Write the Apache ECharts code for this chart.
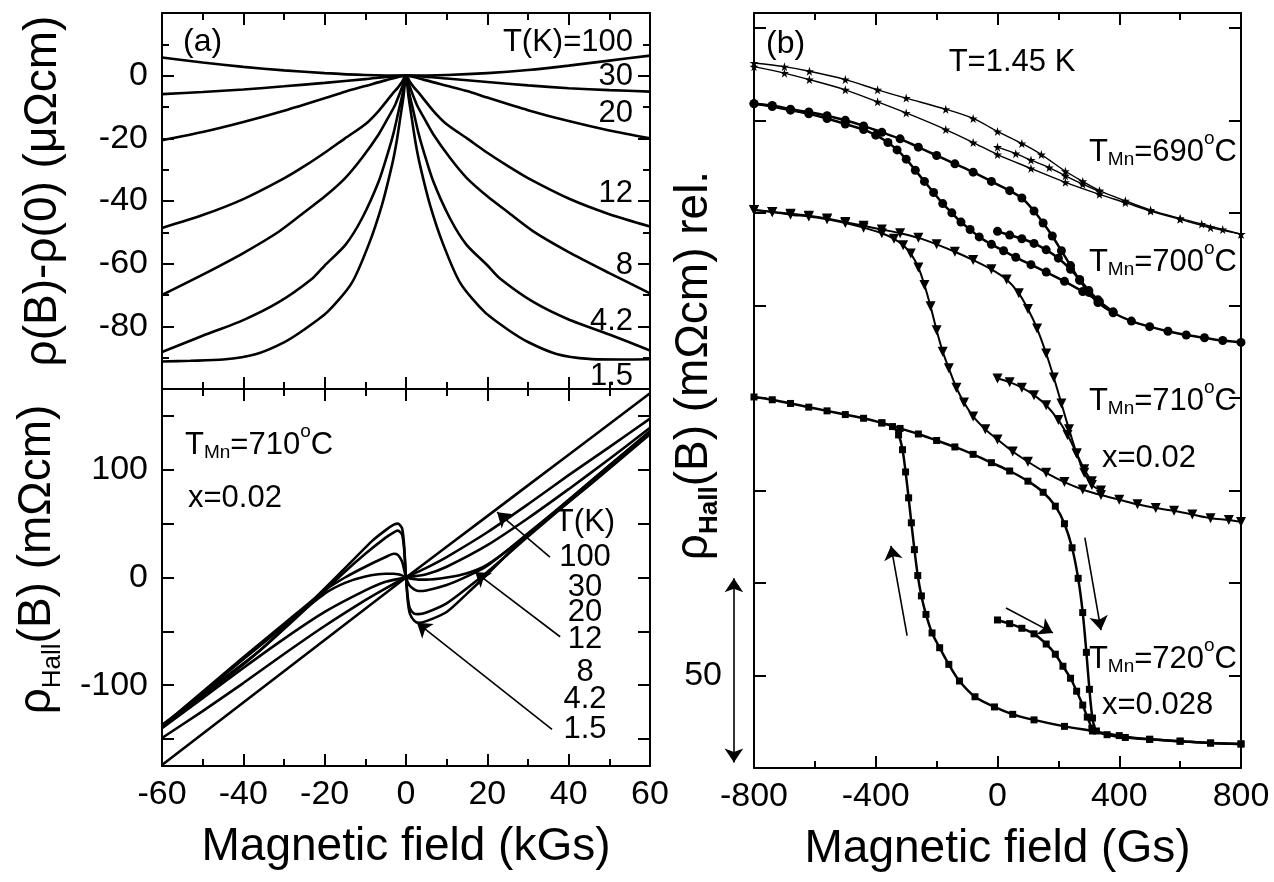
<!DOCTYPE html>
<html>
<head>
<meta charset="utf-8">
<script src="https://cdn.jsdelivr.net/npm/echarts@6/dist/echarts.min.js"></script>
<style>html,body{margin:0;background:#fff}#chart{width:1274px;height:882px}</style>
</head>
<body>
<div id="chart"></div>
<script>
// (a) top: rho(B)-rho(0) in uOhm cm vs B in kGs
var mr100 = [[-60,5.8],[-50,4.2],[-40,2.8],[-30,1.7],[-20,0.8],[-10,0.2],[0,0],[10,0.2],[20,0.8],[30,1.8],[40,3.2],[50,4.8],[60,6.4]];
var mr30 = [[-60,-5.9],[-50,-5.2],[-40,-4.4],[-30,-3.4],[-20,-2.3],[-10,-1.1],[0,0],[10,-0.9],[20,-2],[30,-3.1],[40,-4],[50,-4.6],[60,-5.1]];
var mr20 = [[-60,-20.6],[-50,-18],[-40,-14.8],[-30,-11.2],[-20,-7.2],[-15,-5.1],[-10,-3.3],[-5,-1.5],[0,0],[5,-1.5],[10,-3.2],[15,-4.9],[20,-7],[30,-11],[40,-14.5],[50,-17.5],[60,-20]];
var mr12 = [[-60,-48.6],[-50,-44.5],[-40,-39.4],[-30,-32.8],[-25,-28.9],[-20,-24.6],[-15,-20],[-10,-15.5],[-6.7,-11.2],[-3.4,-5.9],[-2,-3.8],[-1,-2],[0,0],[1,-2],[2,-3.8],[3.4,-5.9],[6.7,-11.2],[10,-15.5],[15,-20],[20,-24.6],[25,-28.8],[30,-32.7],[40,-39.2],[50,-44.2],[60,-48.1]];
var mr8 = [[-60,-70],[-50,-63.5],[-40,-56.6],[-31.3,-49.8],[-25,-43.6],[-20,-38.6],[-14.9,-32.6],[-10.8,-26.2],[-6.7,-18.7],[-4,-12.5],[-2.6,-9.1],[-1,-3.8],[0,0],[1,-3.8],[2.6,-9.1],[4,-12.5],[6.7,-18.7],[10.8,-26.2],[14.9,-32.6],[20,-38.5],[25,-43.5],[31.3,-49.7],[40,-56.3],[50,-63],[60,-69.5]];
var mr4 = [[-60,-88.2],[-50,-83],[-40,-78],[-31.3,-72.3],[-23.1,-64.8],[-20,-60.6],[-14.9,-54],[-10.8,-45.5],[-6.7,-33.7],[-4.3,-24],[-3,-18],[-1.8,-11.2],[-0.8,-5.5],[0,0],[0.8,-5.5],[1.8,-11.2],[3,-18],[4.3,-24],[6.7,-33.7],[10.8,-45.5],[14.9,-54],[20,-60.5],[23.1,-64.7],[31.3,-72.2],[40,-77.8],[50,-82.6],[60,-87.7]];
var mr15 = [[-60,-91.2],[-53,-91],[-45,-90.6],[-37,-88.9],[-30,-85.1],[-25,-81],[-19.3,-75.4],[-13.4,-66.3],[-9.2,-54],[-5.9,-41.2],[-3.4,-28.3],[-2.3,-21],[-1.4,-13.4],[-0.6,-6.5],[0,0],[0.6,-6.5],[1.4,-13.4],[2.3,-21],[3.4,-28.3],[5.9,-41.2],[9.2,-54],[13.4,-66.3],[19.3,-75.4],[25,-81],[30,-85],[37,-88.8],[45,-90.4],[53,-90.6],[60,-90.5]];
var mrLabels = ['T(K)=100', '30', '20', '12', '8', '4.2', '1.5'];

// (a) bottom: Hall resistivity in mOhm cm vs B in kGs
var h100 = [[-60,-174],[-40,-116],[-20,-58],[0,0],[20,57],[40,114],[60,171]];
var h30 = [[-60,-149],[-50,-124],[-40,-98],[-30,-71],[-20,-45],[-10,-21],[-5,-10],[0,0],[5,9],[10,19],[20,42],[30,68],[40,95],[50,121],[60,147.5]];
var h20 = [[-60,-140],[-50,-112],[-40,-84],[-30,-57],[-20,-32],[-10,-12],[-5,-4],[0,0],[5,3],[10,10],[20,30],[30,55],[40,82],[50,110],[60,139]];
var h12 = [[-60,-139],[-50,-107],[-40,-76],[-30,-45],[-20,-15],[-15,-5],[-10,1],[-5,3.5],[-3,3.5],[-2,3],[-1,2],[0,0],[1,-1],[2,-1.5],[3,-2],[5,-2],[10,0],[15,4],[20,12],[30,40],[40,72],[50,104],[60,136]];
var h8 = [[-60,-138],[-50,-106],[-40,-74],[-30,-43],[-20,-12],[-15,0],[-10,10],[-5,19],[-3,22],[-2,21],[-1,15],[-0.5,8],[0,0],[0.5,-5],[1,-8],[2,-11],[3,-12.5],[5,-12],[10,-7],[15,1],[20,11],[30,41],[40,72],[50,104],[60,135]];
var h4 = [[-60,-137],[-48.5,-104],[-36,-68],[-24,-27],[-15.7,3],[-10,22],[-5,37],[-3,42],[-2,43.5],[-1,40],[-0.5,28],[0,0],[0.5,-20],[1,-29],[2,-33.5],[3,-34],[5,-32.5],[10,-24],[15,-10],[20,5],[30,38],[40,70],[50,102],[60,134]];
var h15 = [[-60,-137],[-48.5,-106],[-36,-68],[-24,-25],[-15.7,6],[-8.3,34],[-5,44],[-3,49],[-2,50],[-1,46],[-0.5,32],[0,0],[0.5,-24],[1,-34],[2,-40],[3,-42],[5,-40.5],[10,-32],[15,-15],[20,3],[30,40],[40,70],[46.5,90],[60,133]];
var hallLabels = ['T(K)', '100', '30', '20', '12', '8', '4.2', '1.5'];
var hallArrows = [[[35.4,19],[22.4,60.6]], [[37.9,-55],[17,5]], [[35.9,-141],[2.7,-42]]];

// (b) Hall loops at 1.45 K, B in Gs; up = sweep that switches at +Hc, dn = switches at -Hc, v = virgin
var s690up = [[-800,116.2],[-700,115.8],[-618,115.3],[-500,114.4],[-394,113.3],[-300,112.4],[-170,111.2],[-80,110.2],[0,108.8],[80,107.5],[144,106.3],[223,104.5],[280,103.4],[335,102.4],[420,101.3],[503,100.3],[600,99.4],[671,98.8],[740,98.2],[800,97.7]];
var s690dn = [[-800,115.8],[-700,115.1],[-618,114.4],[-500,113.3],[-394,112],[-300,110.8],[-170,109],[-80,107.6],[0,106.3],[110,104.8],[223,103.3],[335,102],[420,101.1],[503,100.2],[600,99.3],[700,98.4],[800,97.7]];
var s690v = [[0,107.1],[60,106.4],[110,105.7],[170,104.9],[223,104],[280,103.1],[335,102.3]];
var s700up = [[-800,111.8],[-740,111.6],[-680,111.2],[-620,110.9],[-560,110.5],[-500,110],[-440,109.4],[-380,108.7],[-320,108],[-260,107.1],[-200,106.2],[-140,105.3],[-80,104.4],[-20,103.4],[40,102.4],[80,101.6],[120,100.2],[150,98.9],[180,97.5],[210,95.9],[240,94.3],[270,92.7],[300,91.4],[330,90.3],[380,89.2],[440,88.3],[500,87.7],[560,87.2],[620,86.8],[680,86.5],[740,86.2],[800,86]];
var s700dn = [[-800,111.8],[-740,111.5],[-680,111.1],[-620,110.7],[-560,110.2],[-500,109.6],[-440,109],[-400,108.4],[-360,107.6],[-330,106.8],[-300,105.8],[-270,104.6],[-240,103.4],[-210,102.2],[-180,101],[-150,100],[-120,99],[-90,98.2],[-60,97.4],[-20,96.6],[20,95.9],[60,95.2],[110,94.4],[160,93.6],[220,92.6],[280,91.5],[335,90.4],[380,89.3]];
var s700v = [[0,98],[40,97.6],[80,97.2],[120,96.7],[160,96],[200,95.1],[240,93.9],[270,92.8],[300,91.6],[330,90.6]];
var s710up = [[-800,100.3],[-740,100.1],[-680,99.9],[-620,99.7],[-560,99.4],[-500,99],[-440,98.6],[-380,98.2],[-320,97.8],[-260,97.3],[-200,96.6],[-140,95.8],[-80,94.9],[-20,93.9],[30,92.8],[70,91.3],[100,89.6],[130,87.5],[160,84.8],[185,82.2],[210,79.4],[235,76.6],[260,74],[285,71.9],[310,70.6],[340,70]];
var s710dn = [[-800,100.3],[-740,100.1],[-680,99.8],[-620,99.6],[-560,99.3],[-500,98.9],[-440,98.4],[-380,97.8],[-340,97.2],[-310,96.5],[-285,95.6],[-260,94.1],[-240,92.2],[-220,89.9],[-200,87.3],[-180,85],[-160,83.2],[-135,81.1],[-110,79.5],[-80,78],[-40,76.6],[0,75.5],[50,74.2],[100,73.1],[160,71.9],[220,70.9],[280,70.1],[340,69.5],[400,69],[460,68.5],[520,68.1],[580,67.8],[640,67.4],[700,67],[760,66.8],[800,66.6]];
var s710v = [[0,82.1],[40,81.7],[80,81.1],[120,80.3],[160,79.2],[200,77.6],[230,76],[260,74],[285,72.3],[310,71]];
var s720up = [[-800,80.1],[-740,79.8],[-680,79.4],[-620,79],[-560,78.6],[-500,78.2],[-440,77.8],[-380,77.3],[-320,76.7],[-260,76.1],[-200,75.4],[-140,74.7],[-80,73.9],[-20,73],[40,72.1],[100,71],[150,69.8],[190,68.3],[220,66.4],[245,63.8],[265,60.5],[280,56.8],[292,52.5],[302,48.5],[312,45.4],[325,44],[360,43.6],[420,43.3],[500,43.1],[600,42.9],[700,42.7],[800,42.6]];
var s720dn = [[800,42.6],[700,42.7],[600,42.9],[500,43.1],[400,43.5],[312,44],[220,44.5],[120,45.2],[50,45.8],[-10,46.6],[-74,47.7],[-125,49.4],[-160,51.2],[-190,53],[-215,54.6],[-235,56.6],[-250,58.6],[-262,60.8],[-273,63.6],[-283,66.5],[-292,69.2],[-302,72],[-312,74.4],[-325,76],[-345,76.9],[-380,77.3]];
var s720v = [[0,56],[40,55.6],[80,55.1],[120,54.5],[160,53.4],[190,52.3],[215,51],[240,49.7],[260,48.3],[280,46.8],[295,45.5],[310,44.3]];
var loopArrows = [[[-297,54.3],[-350,64]], [[287,64.9],[340,54.9]], [[28,57.3],[182,54.6]]];
var scaleBar = [[-866,40.6],[-866,60.5]];

var FONT = 'Liberation Sans, Arial, Helvetica, sans-serif';
var STAR = 'path://M50,0 L61,35 98,35 68,57 79,91 50,70 21,91 32,57 2,35 39,35 Z';

var chart = echarts.init(document.getElementById('chart'));

function ax(o) {
  var base = {
    axisLine: {show: true, onZero: false, lineStyle: {color: '#000', width: 2}},
    axisTick: {show: true, inside: true, length: 12, lineStyle: {color: '#000', width: 2}},
    minorTick: {show: false},
    axisLabel: {show: false},
    splitLine: {show: false}
  };
  for (var k in o) base[k] = o[k];
  return base;
}
var minor2 = {show: true, splitNumber: 2, length: 7, lineStyle: {color: '#000', width: 2}};
var richName = {
  r: {fontSize: 46, fontFamily: FONT, lineHeight: 52, verticalAlign: 'top'},
  s: {fontSize: 26, fontFamily: FONT, lineHeight: 26, verticalAlign: 'bottom'},
  b: {fontSize: 26, fontFamily: FONT, fontWeight: 'bold', lineHeight: 26, verticalAlign: 'bottom'}
};
// padding on the start side nudges the rotated y titles upward, as in the original
function nameStyle(shift) {
  return {fontSize: 46, fontFamily: FONT, color: '#000', rich: richName, padding: [0, 0, 0, shift || 0]};
}

var xA = {type: 'value', min: -60, max: 60, interval: 20, minorTick: minor2};
var xB = {type: 'value', min: -800, max: 800, interval: 400, minorTick: minor2};
var yTop = {type: 'value', min: -100, max: 20, interval: 20, minorTick: minor2};
var yHall = {type: 'value', min: -175, max: 175, axisTick: {show: true, inside: true, length: 12, customValues: [-150,-100,-50,0,50,100,150], lineStyle: {color: '#000', width: 2}}};
var yLoop = {type: 'value', min: 40, max: 121.6, interval: 10};

function merge(a, b) { var o = {}; for (var k in a) o[k] = a[k]; for (var k2 in b) o[k2] = b[k2]; return ax(o); }

function line(data, xi, yi) {
  return {type: 'line', data: data, xAxisIndex: xi, yAxisIndex: yi, smooth: 0.25,
    symbol: 'none', lineStyle: {color: '#000', width: 2.6}, silent: true};
}
function loop(data, sym, size, width, rot) {
  return {type: 'line', data: data, xAxisIndex: 4, yAxisIndex: 4, smooth: 0.3,
    symbol: sym, symbolSize: size, symbolRotate: rot || 0, showSymbol: true,
    itemStyle: {color: '#000'}, lineStyle: {color: '#000', width: width}, silent: true};
}
function arrows(data, xi, yi, both) {
  return {type: 'lines', coordinateSystem: 'cartesian2d', xAxisIndex: xi, yAxisIndex: yi, clip: false,
    symbol: both ? ['arrow', 'arrow'] : ['none', 'arrow'], symbolSize: 14, silent: true,
    lineStyle: {color: '#000', width: 1.6, opacity: 1, curveness: 0},
    data: data.map(function (c) { return {coords: c}; }), z: 10};
}

var richT = {
  a: {fontSize: 31, fontFamily: FONT, lineHeight: 40, padding: [8, 0, 0, 0], verticalAlign: 'top'},
  s: {fontSize: 19, fontFamily: FONT, lineHeight: 19, verticalAlign: 'bottom'},
  o: {fontSize: 19, fontFamily: FONT, lineHeight: 19, verticalAlign: 'top'}
};
function txt(x, y, t, size, align) {
  return {type: 'text', x: x, y: y, z: 20, style: {text: t, fill: '#000', fontSize: size, fontFamily: FONT,
    textAlign: align || 'left', textVerticalAlign: 'middle'}};
}
function tmn(x, y, t, align) {
  return {type: 'text', x: x, y: y, z: 20, style: {text: '{a|T}{s|Mn}{a|=' + t + '}{o|o}{a|C}', rich: richT,
    fill: '#000', textAlign: align || 'left', textVerticalAlign: 'top'}};
}

var mrY = [42, 76, 113, 193, 265, 321, 376];
var hallY = [522, 557, 587, 612, 639, 672, 699, 729];
var graphics = [txt(183, 42, '(a)', 32), txt(766, 44, '(b)', 32), txt(1012, 62, 'T=1.45 K', 31, 'center'),
  tmn(185, 422, '710'), txt(188, 498, 'x=0.02', 31),
  tmn(1237, 129, '690', 'right'), tmn(1237, 239, '700', 'right'), tmn(1237, 378, '710', 'right'),
  txt(1102, 458, 'x=0.02', 31), tmn(1237, 636, '720', 'right'), txt(1102, 705, 'x=0.028', 31)];
mrLabels.forEach(function (t, i) { graphics.push(txt(633, mrY[i], t, 31, 'right')); });
hallLabels.forEach(function (t, i) { graphics.push(txt(585, hallY[i], t, 31, 'center')); });

chart.setOption({
  animation: false,
  backgroundColor: '#fff',
  grid: [
    {left: 162, width: 488, top: 13, height: 376},
    {left: 162, width: 488, top: 389, height: 377},
    {left: 754, width: 487, top: 13, height: 755}
  ],
  xAxis: [
    merge(xA, {gridIndex: 0, position: 'bottom'}),
    merge(xA, {gridIndex: 0, position: 'top'}),
    merge(xA, {gridIndex: 1, position: 'bottom', axisLabel: {show: true, color: '#000', fontSize: 34, fontFamily: FONT, margin: 12},
      name: 'Magnetic field (kGs)', nameLocation: 'middle', nameGap: 58, nameTextStyle: nameStyle(0)}),
    merge(xA, {gridIndex: 1, position: 'top'}),
    merge(xB, {gridIndex: 2, position: 'bottom', axisLabel: {show: true, color: '#000', fontSize: 34, fontFamily: FONT, margin: 12},
      name: 'Magnetic field (Gs)', nameLocation: 'middle', nameGap: 58, nameTextStyle: nameStyle(0)}),
    merge(xB, {gridIndex: 2, position: 'top'})
  ],
  yAxis: [
    merge(yTop, {gridIndex: 0, position: 'left', axisLabel: {show: true, showMinLabel: false, showMaxLabel: false, color: '#000', fontSize: 34, fontFamily: FONT, margin: 14},
      name: 'ρ(B)-ρ(0) (μΩcm)', nameLocation: 'middle', nameGap: 96, nameTextStyle: nameStyle(20)}),
    merge(yTop, {gridIndex: 0, position: 'right'}),
    merge(yHall, {gridIndex: 1, position: 'left', axisLabel: {show: true, customValues: [-100, 0, 100], color: '#000', fontSize: 34, fontFamily: FONT, margin: 14},
      name: '{r|ρ}{s|Hall}{r|(B) (mΩcm)}', nameLocation: 'middle', nameGap: 96, nameTextStyle: nameStyle(36)}),
    merge(yHall, {gridIndex: 1, position: 'right'}),
    merge(yLoop, {gridIndex: 2, position: 'left', axisLabel: {show: true, color: '#000', fontSize: 34, fontFamily: FONT, margin: 32,
      formatter: function (v) { return v === 50 ? '50' : ''; }},
      name: '{r|ρ}{b|Hall}{r|(B) (mΩcm) rel.}', nameLocation: 'middle', nameGap: 31, nameMoveOverlap: false, nameTextStyle: nameStyle(50)}),
    merge(yLoop, {gridIndex: 2, position: 'right'})
  ],
  series: [
    line(mr100, 0, 0), line(mr30, 0, 0), line(mr20, 0, 0), line(mr12, 0, 0),
    line(mr8, 0, 0), line(mr4, 0, 0), line(mr15, 0, 0),
    line(h100, 2, 2), line(h30, 2, 2), line(h20, 2, 2), line(h12, 2, 2),
    line(h8, 2, 2), line(h4, 2, 2), line(h15, 2, 2),
    arrows(hallArrows, 2, 2),
    loop(s690up, STAR, 9, 1.4), loop(s690dn, STAR, 9, 1.4), loop(s690v, STAR, 9, 1.4),
    loop(s700up, 'circle', 9, 2.5), loop(s700dn, 'circle', 9, 2.5), loop(s700v, 'circle', 9, 2.5),
    loop(s710up, 'triangle', 10, 2, 180), loop(s710dn, 'triangle', 10, 2, 180), loop(s710v, 'triangle', 10, 2, 180),
    loop(s720up, 'rect', 7, 2.5), loop(s720dn, 'rect', 7, 2.5), loop(s720v, 'rect', 7, 2.5),
    arrows(loopArrows, 4, 4),
    arrows([scaleBar], 4, 4, true)
  ],
  graphic: graphics
});
</script>
</body>
</html>
